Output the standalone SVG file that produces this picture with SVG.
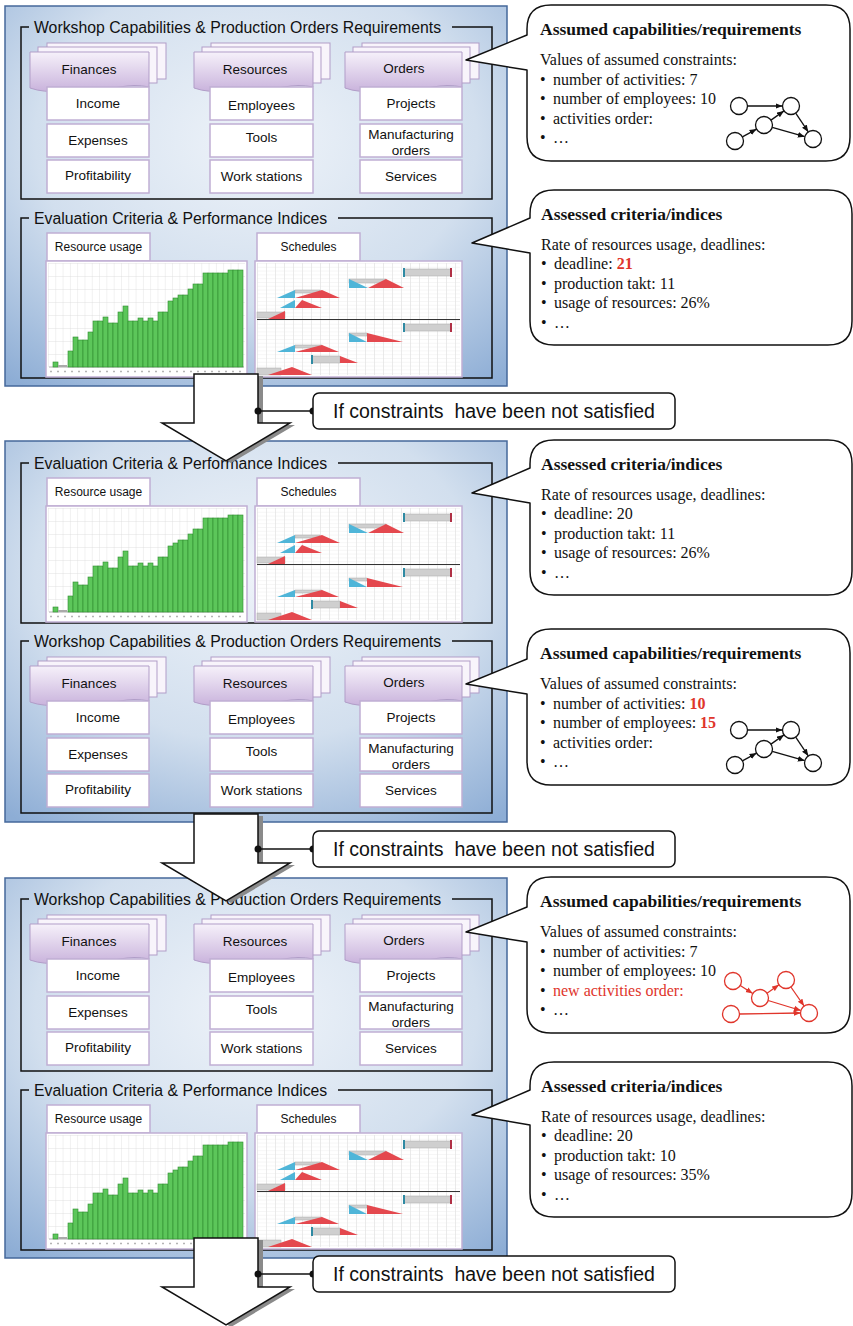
<svg xmlns="http://www.w3.org/2000/svg" xmlns:xlink="http://www.w3.org/1999/xlink" width="853" height="1326" viewBox="0 0 853 1326">
<style>
.pnl{fill:url(#pg);stroke:#45689b;stroke-width:1.5}
.frm{fill:none;stroke:#111;stroke-width:1.5}
.hdr{font-family:"Liberation Sans",Arial,sans-serif;font-size:15.8px;fill:#111}
.card{fill:url(#cg);stroke:#b19dc8;stroke-width:1}
.back{fill:#f8f4fb;stroke:#b19dc8;stroke-width:1}
.item{fill:#fff;stroke:#c0afd4;stroke-width:1.5}
.it{font-family:"Liberation Sans",Arial,sans-serif;font-size:13.5px;fill:#111;text-anchor:middle}
.lt{font-family:"Liberation Sans",Arial,sans-serif;font-size:12px;fill:#111;text-anchor:middle}
.bub{fill:#fff;stroke:#111;stroke-width:1.5;stroke-linejoin:round}
.bt{font-family:"Liberation Serif","Times New Roman",serif;font-size:17.5px;font-weight:bold;fill:#111}
.bx{font-family:"Liberation Serif","Times New Roman",serif;font-size:16px;fill:#111}
.rb{fill:#e0352b;font-weight:bold}
.rd{fill:#e0352b}
.gn{fill:#fff;stroke:#111;stroke-width:1.3}
.ge{stroke:#111;stroke-width:1.3;fill:none}
.rn{fill:#fff;stroke:#e0352b;stroke-width:1.3}
.re{stroke:#e0352b;stroke-width:1.3;fill:none}
.arw{fill:#fff;stroke:#111;stroke-width:1.5;stroke-linejoin:miter}
.shd{fill:#8a8a8a}
.cn{stroke:#111;stroke-width:1.5}
.note{fill:#fff;stroke:#111;stroke-width:1.5}
.nt{font-family:"Liberation Sans",Arial,sans-serif;font-size:19.5px;fill:#111;text-anchor:middle}
.bar{fill:#5cc65a;stroke:#2f8a2f;stroke-width:0.6}
.gb{fill:#cfcfcf;stroke:#a8a8a8;stroke-width:0.5}
.sb{fill:#4fb5d8}
.sr{fill:#e4484e}
.tt{fill:#2f8aa3}
.tr{fill:#b03045}
</style>
<defs>
<radialGradient id="pg" cx="0.5" cy="0.35" r="0.8">
<stop offset="0" stop-color="#eef3f9"/>
<stop offset="0.55" stop-color="#d2dfee"/>
<stop offset="1" stop-color="#8dadd5"/>
</radialGradient>
<linearGradient id="cg" x1="0" y1="0" x2="0" y2="1">
<stop offset="0" stop-color="#f6f1fa"/>
<stop offset="1" stop-color="#c9b3dc"/>
</linearGradient>
<pattern id="gridR" x="48" y="263" width="7.3" height="13" patternUnits="userSpaceOnUse">
<path d="M0,0 V13 M0,0 H7.3" stroke="#d6d6d6" stroke-width="0.7" fill="none"/>
</pattern>
<pattern id="gridS" x="257" y="263" width="9" height="3.8" patternUnits="userSpaceOnUse">
<path d="M0,0 V3.8" stroke="#c4c4c4" stroke-width="0.7" fill="none"/>
<path d="M0,0 H9" stroke="#e2e2e2" stroke-width="0.6" fill="none"/>
</pattern>
<marker id="ah" viewBox="0 0 10 10" refX="10" refY="5" markerWidth="7" markerHeight="7" orient="auto" markerUnits="userSpaceOnUse"><path d="M0,1 L10,5 L0,9 Z" fill="#111"/></marker>
<marker id="ahr" viewBox="0 0 10 10" refX="10" refY="5" markerWidth="7" markerHeight="7" orient="auto" markerUnits="userSpaceOnUse"><path d="M0,1 L10,5 L0,9 Z" fill="#e0352b"/></marker>
<g id="resChart">
<rect x="46" y="261" width="201" height="116" fill="#fff" stroke="#c0afd4" stroke-width="1.5"/>
<rect x="48" y="263" width="197" height="104" fill="url(#gridR)"/>
<line x1="49" y1="367" x2="244" y2="367" stroke="#9a9a9a" stroke-width="0.8"/>
<line x1="50" y1="371.5" x2="244" y2="371.5" stroke="#b5b5b5" stroke-width="1.5" stroke-dasharray="2,5"/>
<rect class="bar" x="53" y="362" width="5" height="5"/>
<rect x="58" y="365" width="9" height="2" fill="#aaa"/>
<rect class="bar" x="68" y="351" width="5" height="16"/>
<rect class="bar" x="73" y="337" width="5" height="30"/>
<rect class="bar" x="78" y="340" width="5" height="27"/>
<rect class="bar" x="83" y="340" width="5" height="27"/>
<rect class="bar" x="88" y="332" width="5" height="35"/>
<rect class="bar" x="93" y="321" width="5" height="46"/>
<rect class="bar" x="98" y="321" width="5" height="46"/>
<rect class="bar" x="103" y="317" width="5" height="50"/>
<rect class="bar" x="108" y="323" width="5" height="44"/>
<rect class="bar" x="113" y="323" width="5" height="44"/>
<rect class="bar" x="118" y="312" width="5" height="55"/>
<rect class="bar" x="123" y="306" width="5" height="61"/>
<rect class="bar" x="128" y="321" width="5" height="46"/>
<rect class="bar" x="133" y="321" width="5" height="46"/>
<rect class="bar" x="138" y="318" width="5" height="49"/>
<rect class="bar" x="143" y="321" width="5" height="46"/>
<rect class="bar" x="148" y="318" width="5" height="49"/>
<rect class="bar" x="153" y="321" width="5" height="46"/>
<rect class="bar" x="158" y="312" width="5" height="55"/>
<rect class="bar" x="163" y="312" width="5" height="55"/>
<rect class="bar" x="168" y="301" width="5" height="66"/>
<rect class="bar" x="173" y="298" width="5" height="69"/>
<rect class="bar" x="178" y="295" width="5" height="72"/>
<rect class="bar" x="183" y="295" width="5" height="72"/>
<rect class="bar" x="188" y="289" width="5" height="78"/>
<rect class="bar" x="193" y="284" width="5" height="83"/>
<rect class="bar" x="198" y="284" width="5" height="83"/>
<rect class="bar" x="203" y="273" width="5" height="94"/>
<rect class="bar" x="208" y="273" width="5" height="94"/>
<rect class="bar" x="213" y="273" width="5" height="94"/>
<rect class="bar" x="218" y="273" width="5" height="94"/>
<rect class="bar" x="223" y="273" width="5" height="94"/>
<rect class="bar" x="228" y="270" width="5" height="97"/>
<rect class="bar" x="233" y="270" width="5" height="97"/>
<rect class="bar" x="238" y="270" width="5" height="97"/>
</g>
<g id="schedChart">
<rect x="255" y="261" width="207" height="116" fill="#fff" stroke="#c0afd4" stroke-width="1.5"/>
<rect x="257" y="263" width="203" height="112" fill="url(#gridS)"/>
<rect class="gb" x="404" y="269" width="47" height="7"/>
<rect class="tt" x="403" y="268" width="2" height="9"/>
<rect class="tr" x="450" y="268" width="2" height="9"/>
<rect class="gb" x="349" y="279" width="37" height="4"/>
<polygon class="sb" points="349,279 349,288 368,288"/>
<polygon class="sr" points="368,288 386,279 404,288"/>
<rect class="gb" x="295" y="290" width="25" height="3"/>
<polygon class="sb" points="277,298 295,290 295,298"/>
<polygon class="sr" points="295,298 322,290 340,298"/>
<polygon class="sb" points="280,308 295,300 295,308"/>
<polygon class="sr" points="295,308 302,300 322,308"/>
<rect class="gb" x="257" y="312" width="28" height="6"/>
<polygon class="sr" points="268,319 285,311 285,319"/>
<line x1="257" y1="319.5" x2="460" y2="319.5" stroke="#333" stroke-width="1.2"/>
<rect class="gb" x="404" y="324" width="47" height="7"/>
<rect class="tt" x="403" y="323" width="2" height="9"/>
<rect class="tr" x="450" y="323" width="2" height="9"/>
<rect class="gb" x="349" y="333" width="18" height="3"/>
<polygon class="sb" points="349,333 349,342 367,342"/>
<polygon class="sr" points="367,333 367,342 403,342"/>
<rect class="gb" x="295" y="345" width="27" height="3"/>
<polygon class="sb" points="277,352 295,345 295,352"/>
<polygon class="sr" points="295,352 322,345 339,352"/>
<rect class="gb" x="312" y="356" width="28" height="7"/>
<rect class="tt" x="311" y="355" width="2" height="9"/>
<polygon class="sr" points="340,356 340,363 358,363"/>
<rect class="gb" x="257" y="368" width="24" height="7"/>
<polygon class="sr" points="268,375 292,367 312,375"/>
</g>
</defs>

<g id="panel1">
<rect class="pnl" x="5" y="6" width="502" height="380"/>
<g id="p1-workshop">
<path class="frm" d="M29,27 H21 V199 H492 V27 H452"/>
<text class="hdr" x="34" y="33">Workshop Capabilities &amp; Production Orders Requirements</text>
<rect class="back" x="47" y="43" width="119" height="36"/><rect class="back" x="38" y="47" width="119" height="36"/>
<path class="card" d="M30,52 H149 V87 C128,82 112,91 90,90 C66,89 50,95 30,88 Z"/>
<text class="it" x="89" y="74">Finances</text>
<rect class="item" x="47" y="87" width="102" height="33"/><text class="it" x="98" y="108">Income</text>
<rect class="item" x="47" y="124" width="102" height="33"/><text class="it" x="98" y="145">Expenses</text>
<rect class="item" x="47" y="160" width="102" height="33"/><text class="it" x="98" y="180">Profitability</text>
<rect class="back" x="211" y="43" width="119" height="36"/><rect class="back" x="202" y="47" width="119" height="36"/>
<path class="card" d="M194,52 H313 V87 C292,82 276,91 254,90 C230,89 214,95 194,88 Z"/>
<text class="it" x="255" y="74">Resources</text>
<rect class="item" x="210" y="87" width="103" height="33"/><text class="it" x="261.5" y="110">Employees</text>
<rect class="item" x="210" y="124" width="103" height="33"/><text class="it" x="261.5" y="142">Tools</text>
<rect class="item" x="210" y="160" width="103" height="33"/><text class="it" x="261.5" y="181">Work stations</text>
<rect class="back" x="362" y="43" width="117" height="36"/><rect class="back" x="353" y="47" width="117" height="36"/>
<path class="card" d="M345,52 H462 V87 C441,82 425,91 404,90 C380,89 364,95 345,88 Z"/>
<text class="it" x="404" y="73">Orders</text>
<rect class="item" x="360" y="87" width="102" height="33"/><text class="it" x="411" y="108">Projects</text>
<rect class="item" x="360" y="124" width="102" height="33"/><text class="it" x="411" y="139">Manufacturing</text><text class="it" x="411" y="155">orders</text>
<rect class="item" x="360" y="160" width="102" height="33"/><text class="it" x="411" y="181">Services</text>
</g>
<g id="p1-evaluation">
<path class="frm" d="M29,218 H21 V378 H492 V218 H338"/>
<text class="hdr" x="34" y="224">Evaluation Criteria &amp; Performance Indices</text>
<rect class="item" x="47" y="233" width="103" height="28"/><text class="lt" x="98.5" y="251">Resource usage</text>
<use href="#resChart"/>
<rect class="item" x="257" y="233" width="103" height="28"/><text class="lt" x="308.5" y="251">Schedules</text>
<use href="#schedChart"/>
</g>
</g>

<g id="panel2">
<rect class="pnl" x="5" y="441" width="502" height="381"/>
<g id="p2-evaluation" transform="translate(0,245)">
<path class="frm" d="M29,218 H21 V378 H492 V218 H338"/>
<text class="hdr" x="34" y="224">Evaluation Criteria &amp; Performance Indices</text>
<rect class="item" x="47" y="233" width="103" height="28"/><text class="lt" x="98.5" y="251">Resource usage</text>
<use href="#resChart"/>
<rect class="item" x="257" y="233" width="103" height="28"/><text class="lt" x="308.5" y="251">Schedules</text>
<use href="#schedChart"/>
</g>
<g id="p2-workshop" transform="translate(0,614)">
<path class="frm" d="M29,27 H21 V199 H492 V27 H452"/>
<text class="hdr" x="34" y="33">Workshop Capabilities &amp; Production Orders Requirements</text>
<rect class="back" x="47" y="43" width="119" height="36"/><rect class="back" x="38" y="47" width="119" height="36"/>
<path class="card" d="M30,52 H149 V87 C128,82 112,91 90,90 C66,89 50,95 30,88 Z"/>
<text class="it" x="89" y="74">Finances</text>
<rect class="item" x="47" y="87" width="102" height="33"/><text class="it" x="98" y="108">Income</text>
<rect class="item" x="47" y="124" width="102" height="33"/><text class="it" x="98" y="145">Expenses</text>
<rect class="item" x="47" y="160" width="102" height="33"/><text class="it" x="98" y="180">Profitability</text>
<rect class="back" x="211" y="43" width="119" height="36"/><rect class="back" x="202" y="47" width="119" height="36"/>
<path class="card" d="M194,52 H313 V87 C292,82 276,91 254,90 C230,89 214,95 194,88 Z"/>
<text class="it" x="255" y="74">Resources</text>
<rect class="item" x="210" y="87" width="103" height="33"/><text class="it" x="261.5" y="110">Employees</text>
<rect class="item" x="210" y="124" width="103" height="33"/><text class="it" x="261.5" y="142">Tools</text>
<rect class="item" x="210" y="160" width="103" height="33"/><text class="it" x="261.5" y="181">Work stations</text>
<rect class="back" x="362" y="43" width="117" height="36"/><rect class="back" x="353" y="47" width="117" height="36"/>
<path class="card" d="M345,52 H462 V87 C441,82 425,91 404,90 C380,89 364,95 345,88 Z"/>
<text class="it" x="404" y="73">Orders</text>
<rect class="item" x="360" y="87" width="102" height="33"/><text class="it" x="411" y="108">Projects</text>
<rect class="item" x="360" y="124" width="102" height="33"/><text class="it" x="411" y="139">Manufacturing</text><text class="it" x="411" y="155">orders</text>
<rect class="item" x="360" y="160" width="102" height="33"/><text class="it" x="411" y="181">Services</text>
</g>
</g>

<g id="panel3" transform="translate(0,872)">
<rect class="pnl" x="5" y="6" width="502" height="380"/>
<g id="p3-workshop">
<path class="frm" d="M29,27 H21 V199 H492 V27 H452"/>
<text class="hdr" x="34" y="33">Workshop Capabilities &amp; Production Orders Requirements</text>
<rect class="back" x="47" y="43" width="119" height="36"/><rect class="back" x="38" y="47" width="119" height="36"/>
<path class="card" d="M30,52 H149 V87 C128,82 112,91 90,90 C66,89 50,95 30,88 Z"/>
<text class="it" x="89" y="74">Finances</text>
<rect class="item" x="47" y="87" width="102" height="33"/><text class="it" x="98" y="108">Income</text>
<rect class="item" x="47" y="124" width="102" height="33"/><text class="it" x="98" y="145">Expenses</text>
<rect class="item" x="47" y="160" width="102" height="33"/><text class="it" x="98" y="180">Profitability</text>
<rect class="back" x="211" y="43" width="119" height="36"/><rect class="back" x="202" y="47" width="119" height="36"/>
<path class="card" d="M194,52 H313 V87 C292,82 276,91 254,90 C230,89 214,95 194,88 Z"/>
<text class="it" x="255" y="74">Resources</text>
<rect class="item" x="210" y="87" width="103" height="33"/><text class="it" x="261.5" y="110">Employees</text>
<rect class="item" x="210" y="124" width="103" height="33"/><text class="it" x="261.5" y="142">Tools</text>
<rect class="item" x="210" y="160" width="103" height="33"/><text class="it" x="261.5" y="181">Work stations</text>
<rect class="back" x="362" y="43" width="117" height="36"/><rect class="back" x="353" y="47" width="117" height="36"/>
<path class="card" d="M345,52 H462 V87 C441,82 425,91 404,90 C380,89 364,95 345,88 Z"/>
<text class="it" x="404" y="73">Orders</text>
<rect class="item" x="360" y="87" width="102" height="33"/><text class="it" x="411" y="108">Projects</text>
<rect class="item" x="360" y="124" width="102" height="33"/><text class="it" x="411" y="139">Manufacturing</text><text class="it" x="411" y="155">orders</text>
<rect class="item" x="360" y="160" width="102" height="33"/><text class="it" x="411" y="181">Services</text>
</g>
<g id="p3-evaluation">
<path class="frm" d="M29,218 H21 V378 H492 V218 H338"/>
<text class="hdr" x="34" y="224">Evaluation Criteria &amp; Performance Indices</text>
<rect class="item" x="47" y="233" width="103" height="28"/><text class="lt" x="98.5" y="251">Resource usage</text>
<use href="#resChart"/>
<rect class="item" x="257" y="233" width="103" height="28"/><text class="lt" x="308.5" y="251">Schedules</text>
<use href="#schedChart"/>
</g>
</g>

<g id="callout-p1-assumed" transform="translate(0,5)">
<path class="bub" d="M466,55 L527,30 L527,24 Q527,0 551,0 L826,0 Q850,0 850,24 L850,132 Q850,156 826,156 L551,156 Q527,156 527,132 L527,65 Z"/>
<text class="bt" x="540" y="30">Assumed capabilities/requirements</text>
<text class="bx" x="540" y="60">Values of assumed constraints:</text>
<text class="bx" x="540" y="80">•</text><text class="bx" x="553" y="80">number of activities: 7</text>
<text class="bx" x="540" y="99">•</text><text class="bx" x="553" y="99">number of employees: 10</text>
<text class="bx" x="540" y="118.5">•</text><text class="bx" x="553" y="118.5">activities order:</text>
<text class="bx" x="540" y="138">•</text><text class="bx" x="553" y="138">…</text>
<g id="graph-a">
<line class="ge" x1="747.5" y1="101" x2="782.5" y2="101" marker-end="url(#ah)"/>
<line class="ge" x1="742.4" y1="131.9" x2="756.6" y2="124.1" marker-end="url(#ah)"/>
<line class="ge" x1="771" y1="115.1" x2="784" y2="105.9" marker-end="url(#ah)"/>
<line class="ge" x1="795.7" y1="108.1" x2="808.3" y2="126.9" marker-end="url(#ah)"/>
<line class="ge" x1="772.2" y1="122.3" x2="804.8" y2="131.7" marker-end="url(#ah)"/>
<circle class="gn" cx="739" cy="101" r="8.5"/>
<circle class="gn" cx="791" cy="101" r="8.5"/>
<circle class="gn" cx="764" cy="120" r="8.5"/>
<circle class="gn" cx="735" cy="136" r="8.5"/>
<circle class="gn" cx="813" cy="134" r="8.5"/>
</g>
</g>

<g id="callout-p1-assessed" transform="translate(0,190)">
<path class="bub" d="M472,53 L530,28 L530,24 Q530,0 554,0 L828,0 Q852,0 852,24 L852,131 Q852,155 828,155 L554,155 Q530,155 530,131 L530,63 Z"/>
<text class="bt" x="541" y="30">Assessed criteria/indices</text>
<text class="bx" x="541" y="60">Rate of resources usage, deadlines:</text>
<text class="bx" x="541" y="79">•</text><text class="bx" x="554" y="79">deadline: <tspan class="rb">21</tspan></text>
<text class="bx" x="541" y="98.5">•</text><text class="bx" x="554" y="98.5">production takt: 11</text>
<text class="bx" x="541" y="118">•</text><text class="bx" x="554" y="118">usage of resources: 26%</text>
<text class="bx" x="541" y="137.5">•</text><text class="bx" x="554" y="137.5">…</text>
</g>

<g id="callout-p2-assessed" transform="translate(0,440)">
<path class="bub" d="M472,53 L530,28 L530,24 Q530,0 554,0 L828,0 Q852,0 852,24 L852,131 Q852,155 828,155 L554,155 Q530,155 530,131 L530,63 Z"/>
<text class="bt" x="541" y="30">Assessed criteria/indices</text>
<text class="bx" x="541" y="60">Rate of resources usage, deadlines:</text>
<text class="bx" x="541" y="79">•</text><text class="bx" x="554" y="79">deadline: 20</text>
<text class="bx" x="541" y="98.5">•</text><text class="bx" x="554" y="98.5">production takt: 11</text>
<text class="bx" x="541" y="118">•</text><text class="bx" x="554" y="118">usage of resources: 26%</text>
<text class="bx" x="541" y="137.5">•</text><text class="bx" x="554" y="137.5">…</text>
</g>

<g id="callout-p2-assumed" transform="translate(0,629)">
<path class="bub" d="M466,55 L527,30 L527,24 Q527,0 551,0 L826,0 Q850,0 850,24 L850,132 Q850,156 826,156 L551,156 Q527,156 527,132 L527,65 Z"/>
<text class="bt" x="540" y="30">Assumed capabilities/requirements</text>
<text class="bx" x="540" y="60">Values of assumed constraints:</text>
<text class="bx" x="540" y="80">•</text><text class="bx" x="553" y="80">number of activities: <tspan class="rb">10</tspan></text>
<text class="bx" x="540" y="99">•</text><text class="bx" x="553" y="99">number of employees: <tspan class="rb">15</tspan></text>
<text class="bx" x="540" y="118.5">•</text><text class="bx" x="553" y="118.5">activities order:</text>
<text class="bx" x="540" y="138">•</text><text class="bx" x="553" y="138">…</text>
<use href="#graph-a"/>
</g>

<g id="callout-p3-assumed" transform="translate(0,877)">
<path class="bub" d="M466,55 L527,30 L527,24 Q527,0 551,0 L826,0 Q850,0 850,24 L850,132 Q850,156 826,156 L551,156 Q527,156 527,132 L527,65 Z"/>
<text class="bt" x="540" y="30">Assumed capabilities/requirements</text>
<text class="bx" x="540" y="60">Values of assumed constraints:</text>
<text class="bx" x="540" y="80">•</text><text class="bx" x="553" y="80">number of activities: 7</text>
<text class="bx" x="540" y="99">•</text><text class="bx" x="553" y="99">number of employees: 10</text>
<text class="bx" x="540" y="118.5">•</text><text class="bx rd" x="553" y="118.5">new activities order:</text>
<text class="bx" x="540" y="138">•</text><text class="bx" x="553" y="138">…</text>
<g id="graph-red">
<line class="re" x1="740.2" y1="108.5" x2="752.8" y2="116.5" marker-end="url(#ahr)"/>
<line class="re" x1="767" y1="116.2" x2="779" y2="107.8" marker-end="url(#ahr)"/>
<line class="re" x1="790.9" y1="110" x2="804.1" y2="129" marker-end="url(#ahr)"/>
<line class="re" x1="768.1" y1="123.5" x2="800.9" y2="133.5" marker-end="url(#ahr)"/>
<line class="re" x1="739.5" y1="137" x2="800.5" y2="136" marker-end="url(#ahr)"/>
<circle class="rn" cx="733" cy="104" r="8.5"/>
<circle class="rn" cx="786" cy="103" r="8.5"/>
<circle class="rn" cx="760" cy="121" r="8.5"/>
<circle class="rn" cx="731" cy="137" r="8.5"/>
<circle class="rn" cx="809" cy="136" r="8.5"/>
</g>
</g>

<g id="callout-p3-assessed" transform="translate(0,1062)">
<path class="bub" d="M472,53 L530,28 L530,24 Q530,0 554,0 L828,0 Q852,0 852,24 L852,131 Q852,155 828,155 L554,155 Q530,155 530,131 L530,63 Z"/>
<text class="bt" x="541" y="30">Assessed criteria/indices</text>
<text class="bx" x="541" y="60">Rate of resources usage, deadlines:</text>
<text class="bx" x="541" y="79">•</text><text class="bx" x="554" y="79">deadline: 20</text>
<text class="bx" x="541" y="98.5">•</text><text class="bx" x="554" y="98.5">production takt: 10</text>
<text class="bx" x="541" y="118">•</text><text class="bx" x="554" y="118">usage of resources: 35%</text>
<text class="bx" x="541" y="137.5">•</text><text class="bx" x="554" y="137.5">…</text>
</g>

<g id="connectors">
<g id="arrow1" transform="translate(0,374)">
<polygon class="shd" points="199,2 263,2 263,51 295,51 231,89 167,51 199,51"/>
<polygon class="arw" points="194,0 258,0 258,49 290,49 226,87 162,49 194,49"/>
<line class="cn" x1="258" y1="37" x2="313" y2="37"/>
<circle cx="258" cy="37" r="3.5" fill="#111"/><circle cx="313" cy="37" r="3.5" fill="#111"/>
</g>
<g id="arrow2" transform="translate(0,814)">
<polygon class="shd" points="199,2 263,2 263,51 295,51 231,89 167,51 199,51"/>
<polygon class="arw" points="194,0 258,0 258,49 290,49 226,87 162,49 194,49"/>
<line class="cn" x1="258" y1="35" x2="313" y2="35"/>
<circle cx="258" cy="35" r="3.5" fill="#111"/><circle cx="313" cy="35" r="3.5" fill="#111"/>
</g>
<g id="arrow3" transform="translate(0,1238)">
<polygon class="shd" points="199,2 263,2 263,51 295,51 231,89 167,51 199,51"/>
<polygon class="arw" points="194,0 258,0 258,49 290,49 226,87 162,49 194,49"/>
<line class="cn" x1="258" y1="36" x2="313" y2="36"/>
<circle cx="258" cy="36" r="3.5" fill="#111"/><circle cx="313" cy="36" r="3.5" fill="#111"/>
</g>
</g>

<g id="note1">
<rect class="note" x="313" y="393" width="362" height="36" rx="6"/>
<text class="nt" x="494" y="418" xml:space="preserve">If constraints  have been not satisfied</text>
</g>
<g id="note2">
<rect class="note" x="313" y="831" width="362" height="36" rx="6"/>
<text class="nt" x="494" y="856" xml:space="preserve">If constraints  have been not satisfied</text>
</g>
<g id="note3">
<rect class="note" x="313" y="1256" width="362" height="36" rx="6"/>
<text class="nt" x="494" y="1281" xml:space="preserve">If constraints  have been not satisfied</text>
</g>
</svg>
